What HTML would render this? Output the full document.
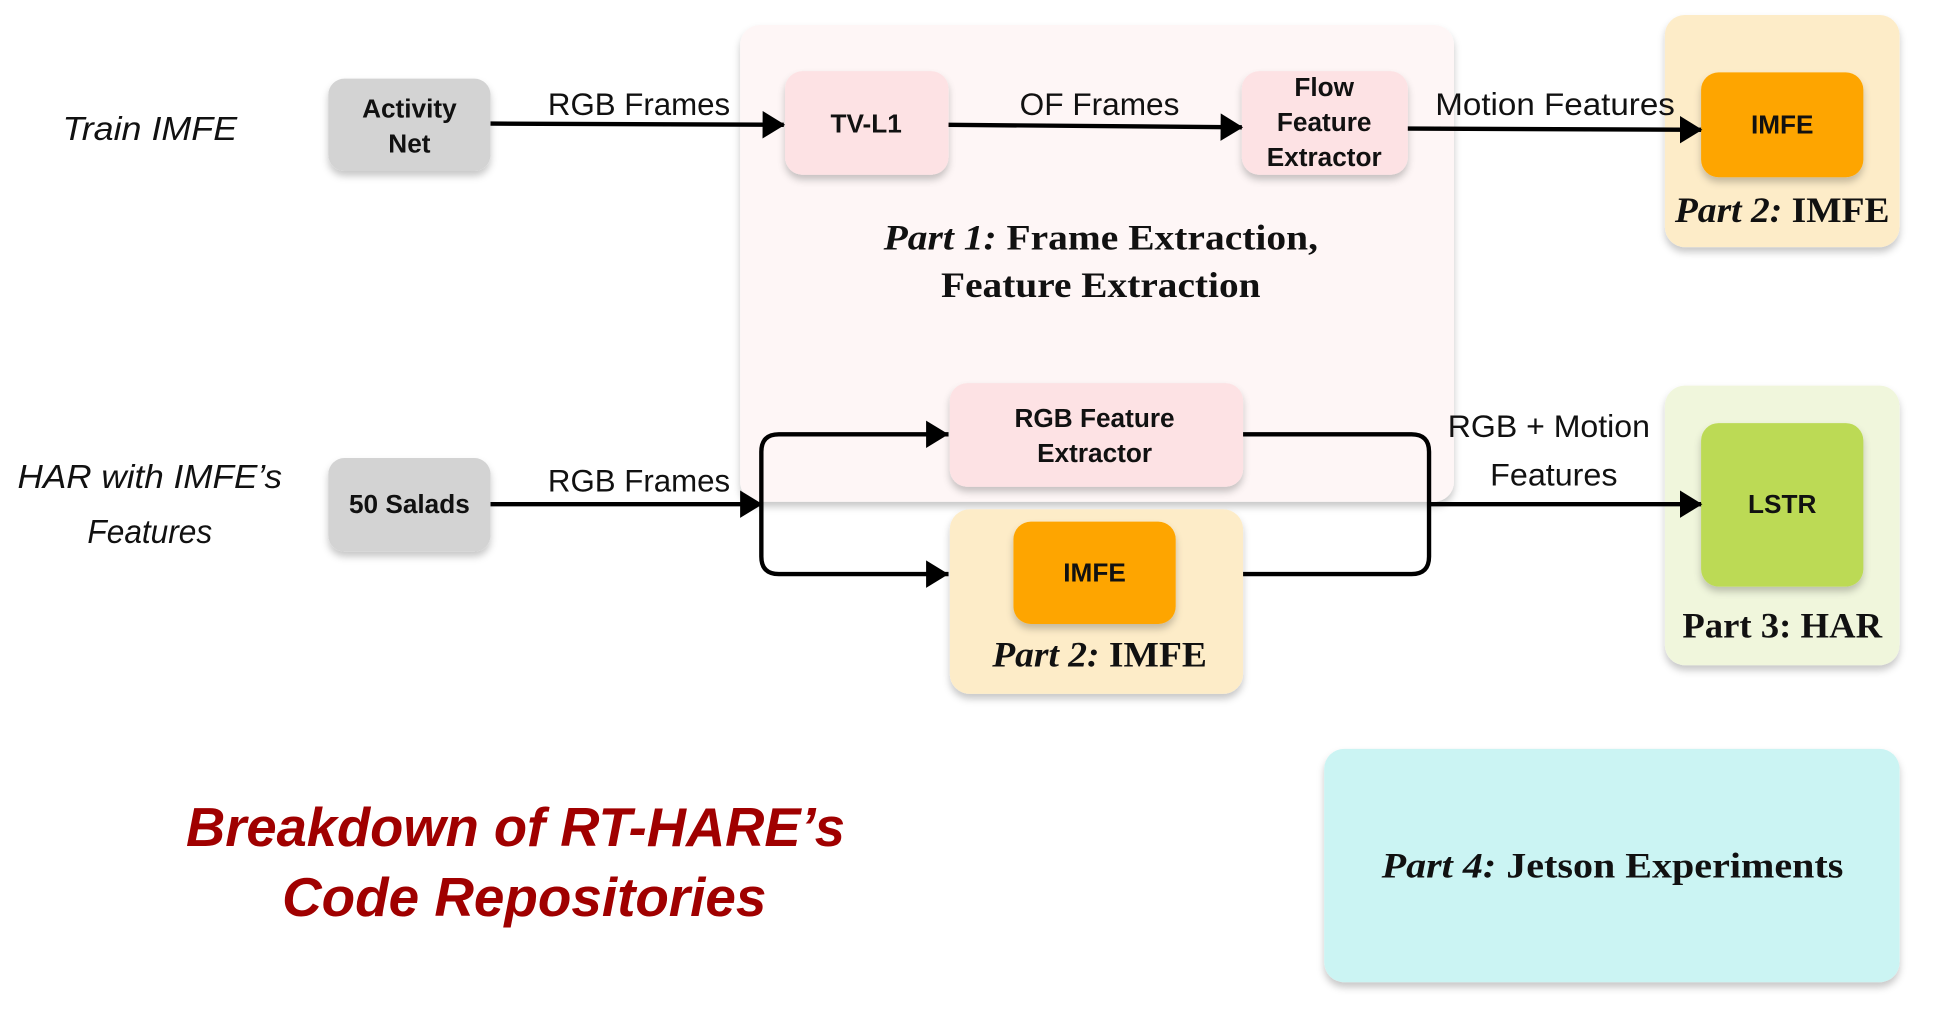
<!DOCTYPE html>
<html><head><meta charset="utf-8"><style>
html,body{margin:0;padding:0;background:#fff;}
svg{display:block;}
.lbl{font-family:"Liberation Sans",sans-serif;font-size:25px;fill:#111;text-anchor:middle;}
.node{font-family:"Liberation Sans",sans-serif;font-weight:bold;font-size:21px;fill:#111;text-anchor:middle;}
.part{font-family:"Liberation Serif",serif;font-weight:bold;font-size:29px;fill:#111;text-anchor:middle;}
.hand{font-family:"Liberation Sans",sans-serif;font-style:italic;font-size:27px;fill:#111;text-anchor:middle;}
.title{font-family:"Liberation Sans",sans-serif;font-weight:bold;font-style:italic;font-size:44px;fill:#a00000;text-anchor:middle;}
</style></head><body>
<svg width="1957" height="1025" viewBox="0 0 1568 821.3" xmlns="http://www.w3.org/2000/svg">
<defs>
<filter id="sh" x="-10%" y="-10%" width="120%" height="130%"><feDropShadow dx="0" dy="4" stdDeviation="3" flood-color="#000" flood-opacity="0.22"/></filter>
<marker id="ar" markerWidth="18" markerHeight="22" refX="17" refY="11" orient="auto" markerUnits="userSpaceOnUse" viewBox="0 0 18 22"><path d="M0,0 L18,11 L0,22 z" fill="#000"/></marker>
</defs>
<rect x="593" y="20" width="572" height="382" rx="16" fill="#fef6f6" filter="url(#sh)"/>
<rect x="1334" y="12" width="188" height="186" rx="16" fill="#fdecc8" filter="url(#sh)"/>
<rect x="1363" y="58" width="130" height="84" rx="14" fill="#fea500" filter="url(#sh)"/>
<text class="node" x="1428" y="107">IMFE</text>
<text class="part" x="1428" y="178" textLength="172" lengthAdjust="spacingAndGlyphs"><tspan font-style="italic">Part 2:</tspan> IMFE</text>
<rect x="263" y="63" width="130" height="74" rx="13" fill="#d3d3d3" filter="url(#sh)"/>
<text class="node" x="328" y="94">Activity</text><text class="node" x="328" y="122">Net</text>
<rect x="629" y="57" width="131" height="83" rx="14" fill="#fde2e4" filter="url(#sh)"/>
<text class="node" x="694" y="106">TV-L1</text>
<rect x="995" y="57" width="133" height="83" rx="14" fill="#fde2e4" filter="url(#sh)"/>
<text class="node" x="1061" y="77">Flow</text><text class="node" x="1061" y="105">Feature</text><text class="node" x="1061" y="133">Extractor</text>
<text class="lbl" x="512" y="92" textLength="146" lengthAdjust="spacingAndGlyphs">RGB Frames</text>
<text class="lbl" x="881" y="92" textLength="128" lengthAdjust="spacingAndGlyphs">OF Frames</text>
<text class="lbl" x="1246" y="92" textLength="192" lengthAdjust="spacingAndGlyphs">Motion Features</text>
<text class="part" x="882" y="200" textLength="348" lengthAdjust="spacingAndGlyphs"><tspan font-style="italic">Part 1:</tspan> Frame Extraction,</text>
<text class="part" x="882" y="238" textLength="256" lengthAdjust="spacingAndGlyphs">Feature Extraction</text>
<text class="hand" x="120" y="112" textLength="140" lengthAdjust="spacingAndGlyphs">Train IMFE</text>
<rect x="761" y="307" width="235" height="83" rx="14" fill="#fde2e4" filter="url(#sh)"/>
<text class="node" x="877" y="342">RGB Feature</text><text class="node" x="877" y="370">Extractor</text>
<rect x="761" y="408" width="235" height="148" rx="16" fill="#fdecc8" filter="url(#sh)"/>
<rect x="812" y="418" width="130" height="82" rx="14" fill="#fea500" filter="url(#sh)"/>
<text class="node" x="877" y="466">IMFE</text>
<text class="part" x="881" y="534" textLength="172" lengthAdjust="spacingAndGlyphs"><tspan font-style="italic">Part 2:</tspan> IMFE</text>
<rect x="263" y="367" width="130" height="75" rx="13" fill="#d3d3d3" filter="url(#sh)"/>
<text class="node" x="328" y="411">50 Salads</text>
<text class="lbl" x="512" y="394" textLength="146" lengthAdjust="spacingAndGlyphs">RGB Frames</text>
<text class="lbl" x="1241" y="350" textLength="162" lengthAdjust="spacingAndGlyphs">RGB + Motion</text>
<text class="lbl" x="1245" y="389" textLength="102" lengthAdjust="spacingAndGlyphs">Features</text>
<rect x="1334" y="309" width="188" height="224" rx="16" fill="#f0f6dc" filter="url(#sh)"/>
<rect x="1363" y="339" width="130" height="131" rx="14" fill="#bcda55" filter="url(#sh)"/>
<text class="node" x="1428" y="411">LSTR</text>
<text class="part" x="1428" y="511" textLength="160" lengthAdjust="spacingAndGlyphs">Part 3: HAR</text>
<text class="hand" x="120" y="391" textLength="212" lengthAdjust="spacingAndGlyphs">HAR with IMFE’s</text>
<text class="hand" x="120" y="435" textLength="100" lengthAdjust="spacingAndGlyphs">Features</text>
<g stroke="#000" stroke-width="3.5" fill="none">
<line x1="393" y1="99" x2="628" y2="100" marker-end="url(#ar)"/>
<line x1="760" y1="100" x2="995" y2="102" marker-end="url(#ar)"/>
<line x1="1128" y1="103" x2="1363" y2="104" marker-end="url(#ar)"/>
<line x1="393" y1="404" x2="610" y2="404" marker-end="url(#ar)"/>
<path d="M760,348 L624,348 Q610,348 610,362 L610,446 Q610,460 624,460 L760,460"/>
<path d="M996,348 L1131,348 Q1145,348 1145,362 L1145,446 Q1145,460 1131,460 L996,460"/>
<line x1="1145" y1="404" x2="1363" y2="404" marker-end="url(#ar)"/>
</g>
<path d="M742,337 L760,348 L742,359 z" fill="#000"/><path d="M742,449 L760,460 L742,471 z" fill="#000"/>
<rect x="1061" y="600" width="461" height="187" rx="16" fill="#cbf4f3" filter="url(#sh)"/>
<text class="part" x="1292" y="703" textLength="370" lengthAdjust="spacingAndGlyphs"><tspan font-style="italic">Part 4:</tspan> Jetson Experiments</text>
<text class="title" x="413" y="678" textLength="528" lengthAdjust="spacingAndGlyphs">Breakdown of RT-HARE’s</text>
<text class="title" x="420" y="734" textLength="388" lengthAdjust="spacingAndGlyphs">Code Repositories</text>
</svg>
</body></html>
